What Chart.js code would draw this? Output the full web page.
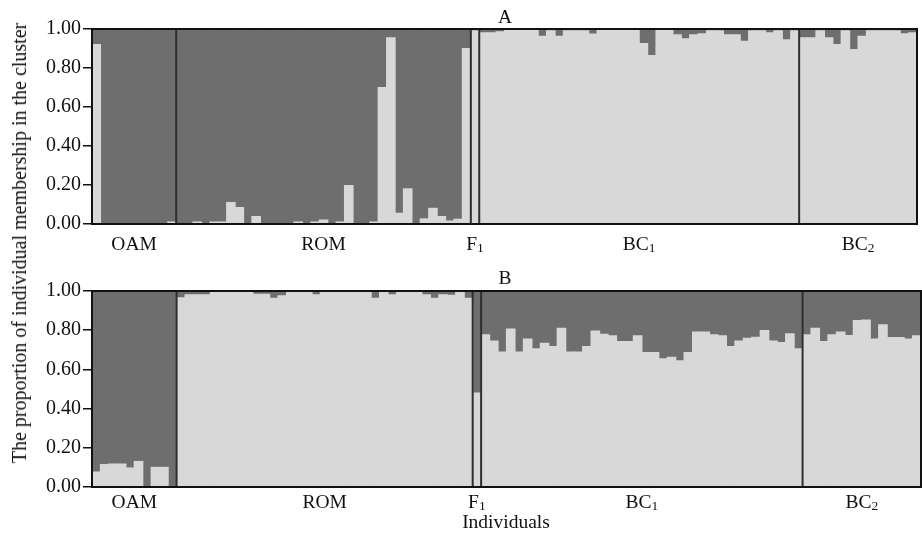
<!DOCTYPE html>
<html><head><meta charset="utf-8">
<script src="https://cdn.jsdelivr.net/npm/chart.js@4.4.1/dist/chart.umd.min.js"></script>
<style>
html,body{margin:0;padding:0;background:#fff;}
#wrap{position:relative;width:922px;height:535px;overflow:hidden;font-family:'Liberation Serif','Times New Roman',serif;}
canvas{position:absolute;left:0;}
#cA{top:0}
#cB{top:262px}
#ytitle{position:absolute;left:19px;top:243px;transform:translate(-50%,-50%) rotate(-90deg);white-space:nowrap;font-size:20px;color:#111;line-height:1;}
</style></head><body>
<div id="wrap">
<canvas id="cA" width="922" height="262"></canvas>
<canvas id="cB" width="922" height="273"></canvas>
<div id="ytitle">The proportion of individual membership in the cluster</div>
</div>
<script>
// ---- categories ----
const groupMain = ['OAM', 'ROM', 'F', 'BC', 'BC'];
const groupSub  = ['', '', '1', '1', '2'];
const yTickValues = [0, 0.2, 0.4, 0.6, 0.8, 1.0];

// ---- Panel A: membership in the light cluster, per individual ----
const aOAM = [0.92, 0, 0, 0, 0, 0, 0, 0, 0, 0.01];
const aROM = [0, 0, 0.01, 0, 0.01, 0.01, 0.11, 0.084, 0, 0.038,
              0, 0, 0, 0, 0.01, 0, 0.01, 0.02, 0, 0.01,
              0.197, 0, 0, 0.01, 0.70, 0.954, 0.055, 0.18, 0, 0.026,
              0.08, 0.038, 0.015, 0.024, 0.90];
const aF1  = [0.99];
const aBC1 = [0.98, 0.98, 0.985, 0.995, 0.995, 0.995, 0.995, 0.962, 0.99, 0.962,
              0.99, 0.99, 0.99, 0.974, 0.995, 0.995, 0.995, 0.995, 0.995, 0.925,
              0.863, 0.995, 0.995, 0.97, 0.95, 0.97, 0.975, 0.99, 0.99, 0.97,
              0.97, 0.937, 0.99, 0.99, 0.98, 0.99, 0.945, 0.99];
const aBC2 = [0.955, 0.955, 0.99, 0.955, 0.92, 0.99, 0.895, 0.962, 0.99, 0.99,
              0.99, 0.99, 0.975, 0.98];

// ---- Panel B: membership in the light cluster, per individual ----
const bOAM = [0.076, 0.114, 0.117, 0.117, 0.097, 0.13, 0, 0.10, 0.10, 0];
const bROM = [0.965, 0.98, 0.98, 0.98, 0.995, 0.995, 0.995, 0.995, 0.995, 0.983,
              0.983, 0.963, 0.975, 0.995, 0.995, 0.995, 0.98, 0.995, 0.995, 0.995,
              0.995, 0.995, 0.995, 0.963, 0.995, 0.98, 0.995, 0.995, 0.995, 0.98,
              0.963, 0.98, 0.978, 0.995, 0.963];
const bF1  = [0.479];
const bBC1 = [0.776, 0.745, 0.688, 0.806, 0.688, 0.754, 0.705, 0.733, 0.716, 0.81,
              0.688, 0.688, 0.716, 0.796, 0.779, 0.771, 0.742, 0.742, 0.771, 0.686,
              0.686, 0.654, 0.662, 0.643, 0.686, 0.79, 0.79, 0.776, 0.771, 0.716,
              0.745, 0.759, 0.764, 0.798, 0.745, 0.737, 0.781, 0.705];
const bBC2 = [0.776, 0.81, 0.742, 0.776, 0.79, 0.772, 0.849, 0.852, 0.755, 0.827,
              0.762, 0.762, 0.755, 0.771];

const panelA = [aOAM, aROM, aF1, aBC1, aBC2];
const panelB = [bOAM, bROM, bF1, bBC1, bBC2];

// ---- styles ----
const LIGHT = '#d8d8d8';
const DARK = '#6e6e6e';
const FONT = "'Liberation Serif','Times New Roman',serif";

function buildLabels(groups) {
  const labels = [];
  groups.forEach((g, gi) => g.forEach((_, i) => labels.push(groupMain[gi] + groupSub[gi] + '-' + (i + 1))));
  return labels;
}

function makePlugin(cfg) {
  return {
    id: 'structure',
    afterDatasetsDraw(chart) {
      const { ctx, chartArea: ca } = chart;
      const xs = chart.scales.x;
      const sizes = cfg.groups.map(g => g.length);
      const N = chart.data.labels.length;
      const edge = (k) => {
        if (k <= 0) return ca.left;
        if (k >= N) return ca.right;
        return (xs.getPixelForValue(k - 1) + xs.getPixelForValue(k)) / 2;
      };
      ctx.save();
      // group separators
      ctx.strokeStyle = '#2e2e2e';
      ctx.lineWidth = 2;
      let cum = 0;
      const bounds = [0];
      sizes.forEach(n => { cum += n; bounds.push(cum); });
      for (let i = 1; i < bounds.length - 1; i++) {
        const x = edge(bounds[i]);
        ctx.beginPath(); ctx.moveTo(x, ca.top); ctx.lineTo(x, ca.bottom); ctx.stroke();
      }
      // frame
      ctx.strokeStyle = '#111';
      ctx.lineWidth = 2;
      ctx.strokeRect(ca.left, ca.top, ca.right - ca.left, ca.bottom - ca.top);
      // group labels
      ctx.fillStyle = '#111';
      ctx.textBaseline = 'alphabetic';
      ctx.textAlign = 'left';
      for (let i = 0; i < sizes.length; i++) {
        const cx = (edge(bounds[i]) + edge(bounds[i + 1])) / 2;
        ctx.font = '19.5px ' + FONT;
        const wm = ctx.measureText(groupMain[i]).width;
        ctx.font = '13.5px ' + FONT;
        const ws = groupSub[i] ? ctx.measureText(groupSub[i]).width : 0;
        const x0 = cx - (wm + ws) / 2;
        const y = ca.bottom + cfg.labelOffset;
        ctx.font = '19.5px ' + FONT;
        ctx.fillText(groupMain[i], x0, y);
        if (groupSub[i]) {
          ctx.font = '13.5px ' + FONT;
          ctx.fillText(groupSub[i], x0 + wm, y + 2);
        }
      }
      // panel title
      ctx.font = '19.5px ' + FONT;
      ctx.textAlign = 'center';
      ctx.fillText(cfg.title, 505, cfg.titleY);
      if (cfg.xTitle) {
        ctx.fillText(cfg.xTitle, 506, ca.bottom + cfg.xTitleOffset);
      }
      ctx.restore();
    }
  };
}

function makeChart(id, groups, cfg) {
  const light = groups.flat();
  const dark = light.map(v => +(1 - v).toFixed(3));
  const labels = buildLabels(groups);
  return new Chart(document.getElementById(id), {
    type: 'bar',
    data: {
      labels,
      datasets: [
        { label: 'Cluster 2', data: light, backgroundColor: LIGHT, borderWidth: 0, inflateAmount: 0.6 },
        { label: 'Cluster 1', data: dark, backgroundColor: DARK, borderWidth: 0, inflateAmount: 0.6 }
      ]
    },
    options: {
      responsive: false,
      animation: false,
      devicePixelRatio: 1,
      barPercentage: 1.0,
      categoryPercentage: 1.0,
      layout: { padding: { left: 0, right: cfg.padRight, top: cfg.padTop, bottom: 0 } },
      plugins: { legend: { display: false }, tooltip: { enabled: false }, title: { display: false } },
      scales: {
        x: {
          stacked: true,
          grid: { display: false },
          border: { display: false },
          ticks: { display: false },
          afterFit(s) { s.height = cfg.xHeight; }
        },
        y: {
          stacked: true,
          min: 0,
          max: 1,
          afterBuildTicks(s) { s.ticks = yTickValues.map(v => ({ value: v })); },
          afterFit(s) { s.width = 92; },
          ticks: {
            color: '#111',
            padding: 2,
            font: { family: FONT, size: 20 },
            callback: v => Number(v).toFixed(2)
          },
          grid: { drawOnChartArea: false, drawTicks: true, tickLength: 9, color: '#111', lineWidth: 1.5 },
          border: { display: false }
        }
      }
    },
    plugins: [makePlugin(Object.assign({ groups }, cfg))]
  });
}

makeChart('cA', panelA, { padRight: 5, padTop: 29, xHeight: 38, labelOffset: 26, title: 'A', titleY: 23 });
makeChart('cB', panelB, { padRight: 1, padTop: 29, xHeight: 48, labelOffset: 21, title: 'B', titleY: 22,
  xTitle: 'Individuals', xTitleOffset: 41 });
</script>
</body></html>
